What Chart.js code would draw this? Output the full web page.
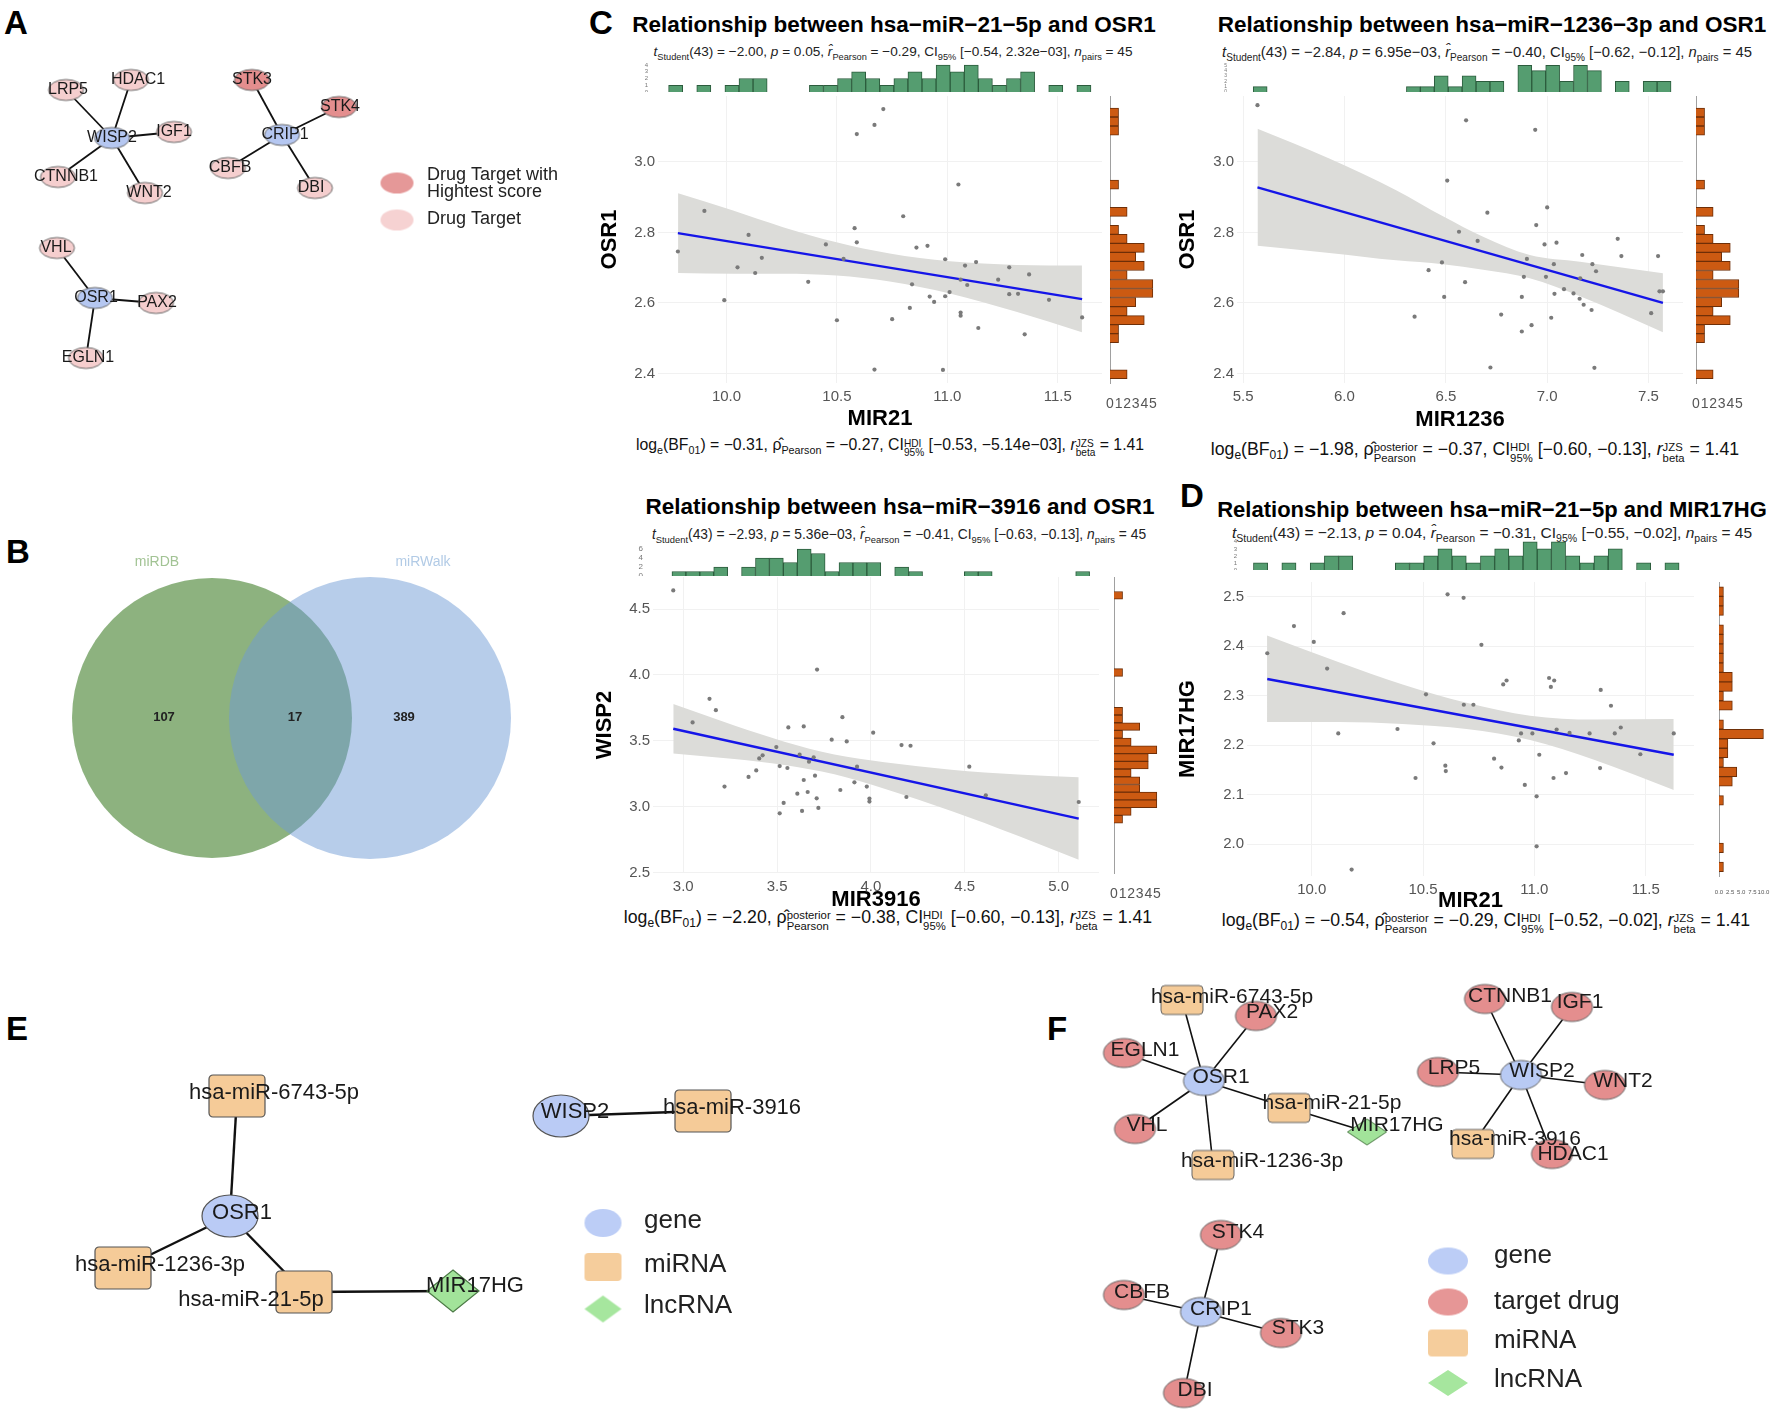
<!DOCTYPE html>
<html lang="en">
<head>
<meta charset="UTF-8">
<title>miRNA / gene / drug-target panels</title>
<script src="https://cdn.jsdelivr.net/npm/chart.js"></script>
<style>
  body { margin: 0; background: #fff; }
  #page { position: relative; width: 1772px; height: 1410px; overflow: hidden; background: #fff;
          font-family: "Liberation Sans", Arial, sans-serif; color: #000; }
  #page canvas { position: absolute; }
  .letter { position: absolute; font-weight: bold; font-size: 33px; line-height: 1; }
  .txt { position: absolute; white-space: nowrap; transform: translate(-50%, -50%); line-height: 1; }
  .ttl { font-weight: bold; font-size: 22.5px; }
  .sub { font-size: 15px; color: #222; }
  .cap { font-size: 17.7px; color: #111; }
  .txt sub { font-size: 68%; line-height: 0; }
  .ss { display: inline-flex; flex-direction: column; font-size: 64%; line-height: 0.95; vertical-align: 0.34em; }
</style>
</head>
<body>
<div id="page">
  <div class="letter" style="left:4px;top:6px">A</div>
  <div class="letter" style="left:6px;top:535px">B</div>
  <div class="letter" style="left:589px;top:6px">C</div>
  <div class="letter" style="left:1180px;top:479px">D</div>
  <div class="letter" style="left:6px;top:1012px">E</div>
  <div class="letter" style="left:1047px;top:1012px">F</div>

  <div class="txt ttl" style="left:894px;top:25px">Relationship between hsa−miR−21−5p and OSR1</div>
  <div class="txt ttl" style="left:1492px;top:25px">Relationship between hsa−miR−1236−3p and OSR1</div>
  <div class="txt ttl" style="left:900px;top:507px">Relationship between hsa−miR−3916 and OSR1</div>
  <div class="txt ttl" style="left:1492px;top:510px;font-size:22px">Relationship between hsa−miR−21−5p and MIR17HG</div>

  <div class="txt sub" id="sub1" style="left:893px;top:52px;font-size:13.6px"></div>
  <div class="txt sub" id="sub2" style="left:1487px;top:52px;font-size:14.8px"></div>
  <div class="txt sub" id="sub3" style="left:899px;top:535px;font-size:13.8px"></div>
  <div class="txt sub" id="sub4" style="left:1492px;top:533px;font-size:15.5px"></div>

  <div class="txt cap" id="cap1" style="left:890px;top:447px;font-size:15.8px"></div>
  <div class="txt cap" id="cap2" style="left:1475px;top:452px"></div>
  <div class="txt cap" id="cap3" style="left:888px;top:920px"></div>
  <div class="txt cap" id="cap4" style="left:1486px;top:923px"></div>
</div>

<script>
// ---------------- data ----------------

// C (top-left): hsa-miR-21-5p (MIR21) vs OSR1
const p1X = [9.78, 9.90, 9.99, 10.05, 10.10, 10.13, 10.16, 10.37, 10.45, 10.50, 10.53, 10.58, 10.59, 10.59, 10.67,
             10.71, 10.67, 10.75, 10.80, 10.83, 10.84, 10.86, 10.91, 10.92, 10.94, 10.98, 10.99, 10.99, 11.01, 11.05,
             11.06, 11.06, 11.06, 11.08, 11.09, 11.13, 11.14, 11.23, 11.28, 11.28, 11.32, 11.35, 11.37, 11.46, 11.61];
const p1Y = [2.746, 2.861, 2.608, 2.701, 2.793, 2.685, 2.728, 2.660, 2.766, 2.551, 2.725, 2.812, 2.772, 3.079, 3.105,
             3.150, 2.411, 2.554, 2.846, 2.586, 2.653, 2.757, 2.762, 2.618, 2.603, 2.410, 2.724, 2.619, 2.631, 2.936,
             2.666, 2.573, 2.564, 2.706, 2.651, 2.716, 2.529, 2.666, 2.625, 2.701, 2.626, 2.511, 2.681, 2.609, 2.559];
const p1FitX = [9.78, 11.61];
const p1FitY = [2.798, 2.611];
const p1BandX  = [9.781, 10.030, 10.256, 10.498, 10.739, 11.011, 11.312, 11.609];
const p1BandHi = [2.911, 2.862, 2.815, 2.772, 2.740, 2.718, 2.708, 2.706];
const p1BandLo = [2.685, 2.683, 2.683, 2.678, 2.661, 2.627, 2.575, 2.517];

// C (top-right): hsa-miR-1236-3p (MIR1236) vs OSR1
const p2X = [5.571, 6.600, 6.941, 6.507, 6.705, 7.000, 6.946, 6.565, 6.657, 6.987, 7.046, 7.348, 7.173, 7.366, 7.547,
             6.900, 6.481, 7.033, 7.223, 7.241, 6.415, 6.885, 6.994, 6.595, 7.163, 7.083, 7.130, 7.036, 7.554, 7.571,
             6.492, 6.875, 7.160, 7.180, 7.219, 6.346, 6.773, 7.020, 7.513, 6.923, 6.875, 6.720, 7.233];
const p2Y = [3.161, 3.118, 3.091, 2.947, 2.856, 2.871, 2.821, 2.802, 2.776, 2.766, 2.771, 2.782, 2.736, 2.733, 2.733,
             2.725, 2.715, 2.710, 2.710, 2.690, 2.693, 2.674, 2.674, 2.659, 2.670, 2.639, 2.627, 2.626, 2.633, 2.633,
             2.617, 2.617, 2.612, 2.595, 2.580, 2.561, 2.567, 2.558, 2.571, 2.537, 2.519, 2.417, 2.416];
const p2FitX = [5.571, 7.571];
const p2FitY = [2.928, 2.600];
const p2BandX  = [5.571, 5.925, 6.255, 6.486, 6.684, 6.914, 7.162, 7.571];
const p2BandHi = [3.094, 3.010, 2.920, 2.846, 2.788, 2.736, 2.717, 2.684];
const p2BandLo = [2.762, 2.742, 2.721, 2.710, 2.694, 2.670, 2.619, 2.517];

// C (bottom-left): hsa-miR-3916 (MIR3916) vs WISP2
const p3X = [2.947, 3.050, 3.140, 3.174, 3.220, 3.348, 3.389, 3.405, 3.423, 3.496, 3.514, 3.514, 3.535, 3.555, 3.560,
             3.608, 3.620, 3.633, 3.642, 3.642, 3.663, 3.670, 3.695, 3.702, 3.711, 3.713, 3.720, 3.791, 3.837, 3.848,
             3.871, 3.912, 3.926, 3.978, 3.992, 3.992, 4.012, 4.163, 4.189, 4.211, 4.524, 4.612, 5.107];
const p3Y = [4.641, 3.639, 3.818, 3.732, 3.152, 3.225, 3.275, 3.366, 3.389, 3.452, 3.308, 2.949, 3.028, 3.293, 3.601,
             3.098, 3.394, 2.967, 3.609, 3.202, 3.111, 3.341, 3.374, 3.235, 3.063, 4.040, 2.990, 3.508, 3.126, 3.679,
             3.495, 3.184, 3.303, 3.152, 3.061, 3.038, 3.561, 3.467, 3.073, 3.462, 3.303, 3.086, 3.035];
const p3FitX = [2.947, 5.107];
const p3FitY = [3.591, 2.909];
const p3BandX  = [2.947, 3.272, 3.539, 3.805, 4.072, 4.428, 4.783, 5.107];
const p3BandHi = [3.778, 3.615, 3.493, 3.396, 3.337, 3.280, 3.244, 3.222];
const p3BandLo = [3.404, 3.362, 3.316, 3.245, 3.135, 2.967, 2.779, 2.596];

// D: hsa-miR-21-5p (MIR21) vs MIR17HG
const p4X = [9.800, 9.920, 10.009, 10.069, 10.119, 10.143, 10.179, 10.385, 10.466, 10.513, 10.547, 10.600, 10.602, 10.610, 10.682,
             10.683, 10.726, 10.762, 10.819, 10.852, 10.860, 10.875, 10.930, 10.940, 10.957, 10.991, 11.010, 11.010, 11.022, 11.066,
             11.074, 11.089, 11.086, 11.100, 11.142, 11.158, 11.248, 11.295, 11.298, 11.344, 11.361, 11.388, 11.476, 11.626];
const p4Y = [2.386, 2.441, 2.409, 2.355, 2.224, 2.467, 1.949, 2.233, 2.134, 2.303, 2.204, 2.159, 2.148, 2.505, 2.498,
             2.282, 2.282, 2.403, 2.173, 2.155, 2.323, 2.331, 2.210, 2.224, 2.120, 2.224, 2.097, 1.996, 2.181, 2.336,
             2.318, 2.331, 2.134, 2.232, 2.144, 2.225, 2.224, 2.154, 2.312, 2.280, 2.224, 2.236, 2.182, 2.224];
const p4FitX = [9.80, 11.626];
const p4FitY = [2.334, 2.181];
const p4BandX  = [9.799, 10.122, 10.408, 10.695, 10.981, 11.268, 11.626];
const p4BandHi = [2.422, 2.368, 2.323, 2.286, 2.260, 2.252, 2.253];
const p4BandLo = [2.247, 2.247, 2.243, 2.233, 2.211, 2.171, 2.110];

// marginal histograms (30 bins each, counts from low to high value)
const mir21Counts   = [1,0,1,0,1,2,2,0,0,0,1,1,2,3,2,1,2,3,2,4,3,4,2,1,2,3,0,1,0,1];
const mir1236Counts = [1,0,0,0,0,0,0,0,0,0,0,1,1,3,1,3,2,2,0,5,4,5,2,5,4,0,2,0,2,2];
const mir3916Counts = [1,1,1,2,0,2,4,4,3,6,5,1,3,3,3,0,2,1,0,0,0,1,1,0,0,0,0,0,0,1];
const osr1Counts    = [2,0,0,0,1,1,4,2,3,5,5,2,4,3,4,2,1,0,2,0,0,1,0,0,0,0,0,1,1,1];
const wisp2Counts   = [1,2,5,5,3,3,2,4,4,5,2,1,3,1,1,0,0,0,0,1,0,0,0,0,0,0,0,0,0,1];
const mir17hgCounts = [1,0,1,0,0,0,0,1,0,3,4,1,2,2,10,1,0,3,1,3,3,1,1,1,1,1,0,1,1,1];
const mir21Range   = [9.738, 11.65];
const mir1236Range = [5.550, 7.611];
const mir3916Range = [2.940, 5.165];
const osr1Range    = [2.385, 3.153];
const wisp2Range   = [2.875, 4.633];
const mir17hgRange = [1.945, 2.520];

// axis ranges and ticks
const p1XRange = [9.69, 11.70],  p1YRange = [2.373, 3.187];
const p2XRange = [5.47, 7.67],   p2YRange = [2.373, 3.187];
const p3XRange = [2.839, 5.215], p3YRange = [2.496, 4.743];
const p4XRange = [9.709, 11.717], p4YRange = [1.936, 2.53];
const mir21Ticks = [10.0, 10.5, 11.0, 11.5];
const mir1236Ticks = [5.5, 6.0, 6.5, 7.0, 7.5];
const mir3916Ticks = [3.0, 3.5, 4.0, 4.5, 5.0];
const osr1Ticks = [2.4, 2.6, 2.8, 3.0];
const wisp2Ticks = [2.5, 3.0, 3.5, 4.0, 4.5];
const mir17hgTicks = [2.0, 2.1, 2.2, 2.3, 2.4, 2.5];

// stats text
const subStats = [
  ['−2.00', '0.05', '−0.29', '−0.54', '2.32e−03'],
  ['−2.84', '6.95e−03', '−0.40', '−0.62', '−0.12'],
  ['−2.93', '5.36e−03', '−0.41', '−0.63', '−0.13'],
  ['−2.13', '0.04', '−0.31', '−0.55', '−0.02']
];
const capStats = [
  ['−0.31', '−0.27', '−0.53', '−5.14e−03'],
  ['−1.98', '−0.37', '−0.60', '−0.13'],
  ['−2.20', '−0.38', '−0.60', '−0.13'],
  ['−0.54', '−0.29', '−0.52', '−0.02']
];

// A: drug-target network
const aNames  = ['WISP2','LRP5','HDAC1','IGF1','CTNNB1','WNT2','CRIP1','STK3','STK4','CBFB','DBI','OSR1','VHL','PAX2','EGLN1'];
const aKinds  = ['gene','target','target','target','target','target','gene','top','top','target','target','gene','target','target','target'];
const aX      = [112, 66, 131, 174, 58, 145, 282, 252, 339, 228, 315, 95, 57, 156, 86];
const aY      = [138, 90, 80, 132, 177, 193, 135, 80, 107, 168, 188, 298, 248, 303, 358];
const aLabelX = [112, 68, 138, 174, 66, 149, 285, 252, 340, 230, 311, 96, 56, 157, 88];
const aEdges  = [['WISP2','LRP5'],['WISP2','HDAC1'],['WISP2','IGF1'],['WISP2','CTNNB1'],['WISP2','WNT2'],
                 ['CRIP1','STK3'],['CRIP1','STK4'],['CRIP1','CBFB'],['CRIP1','DBI'],
                 ['OSR1','VHL'],['OSR1','PAX2'],['OSR1','EGLN1']];

// B: Venn
const vennSets = ['miRDB', 'miRWalk'];
const vennCounts = [107, 17, 389];

// E: ceRNA network
const eNames  = ['hsa-miR-6743-5p','OSR1','hsa-miR-1236-3p','hsa-miR-21-5p','MIR17HG','WISP2','hsa-miR-3916'];
const eKinds  = ['mirna','gene','mirna','mirna','lnc','gene','mirna'];
const eX      = [237, 230, 123, 304, 453, 561, 703];
const eY      = [1096, 1216, 1268, 1292, 1291, 1116, 1111];
const eLabelX = [274, 242, 160, 251, 475, 575, 732];
const eLabelY = [1093, 1213, 1265, 1300, 1286, 1112, 1108];
const eEdges  = [['OSR1','hsa-miR-6743-5p'],['OSR1','hsa-miR-1236-3p'],['OSR1','hsa-miR-21-5p'],
                 ['hsa-miR-21-5p','MIR17HG'],['WISP2','hsa-miR-3916']];
const eLegend = ['gene', 'miRNA', 'lncRNA'];

// F: combined network
const fNames  = ['OSR1','hsa-miR-6743-5p','PAX2','EGLN1','VHL','hsa-miR-1236-3p','hsa-miR-21-5p','MIR17HG',
                 'WISP2','CTNNB1','IGF1','LRP5','WNT2','hsa-miR-3916','HDAC1',
                 'CRIP1','STK4','CBFB','STK3','DBI'];
const fKinds  = ['gene','mirna','target','target','target','mirna','mirna','lnc',
                 'gene','target','target','target','target','mirna','target',
                 'gene','target','target','target','target'];
const fX      = [1204, 1182, 1256, 1124, 1135, 1213, 1289, 1367, 1521, 1485, 1572, 1438, 1605, 1473, 1552, 1201, 1221, 1124, 1281, 1184];
const fY      = [1081, 1000, 1016, 1053, 1129, 1165, 1108, 1132, 1075, 999, 1007, 1072, 1085, 1144, 1154, 1312, 1235, 1295, 1333, 1393];
const fLabelX = [1221, 1232, 1272, 1145, 1147, 1262, 1332, 1397, 1542, 1510, 1580, 1454, 1623, 1515, 1573, 1221, 1238, 1142, 1298, 1195];
const fLabelY = [1077, 997, 1012, 1050, 1125, 1161, 1103, 1125, 1071, 996, 1002, 1068, 1081, 1139, 1154, 1309, 1232, 1292, 1328, 1390];
const fEdges  = [['OSR1','hsa-miR-6743-5p'],['OSR1','PAX2'],['OSR1','EGLN1'],['OSR1','VHL'],['OSR1','hsa-miR-1236-3p'],
                 ['OSR1','hsa-miR-21-5p'],['hsa-miR-21-5p','MIR17HG'],
                 ['WISP2','CTNNB1'],['WISP2','IGF1'],['WISP2','LRP5'],['WISP2','WNT2'],['WISP2','hsa-miR-3916'],['WISP2','HDAC1'],
                 ['CRIP1','STK4'],['CRIP1','CBFB'],['CRIP1','STK3'],['CRIP1','DBI']];
const fLegend = ['gene', 'target drug', 'miRNA', 'lncRNA'];

// ---------------- helpers ----------------
const FONT = '"Liberation Sans", Arial, sans-serif';
Chart.defaults.font.family = FONT;
Chart.defaults.animation = false;
Chart.defaults.events = [];
Chart.defaults.layout.autoPadding = false;
Chart.defaults.plugins.legend.display = false;
Chart.defaults.plugins.tooltip.enabled = false;

const GREEN = '#559d70', GREEN_EDGE = '#2c5c3d';
const ORANGE = '#cc5a12', ORANGE_EDGE = '#6e2f08';

function addCanvas(l, t, w, h) {
  const c = document.createElement('canvas');
  l = Math.round(l); t = Math.round(t); w = Math.round(w); h = Math.round(h);
  c.width = w; c.height = h;
  c.style.left = l + 'px'; c.style.top = t + 'px';
  c.style.width = w + 'px'; c.style.height = h + 'px';
  document.getElementById('page').appendChild(c);
  return c;
}

function pairs(xs, ys) { return xs.map((v, i) => ({ x: v, y: ys[i] })); }

// fixes an axis box size and drops the label overflow padding so chart areas line up
function fitTo(size, isX) {
  return s => {
    if (isX) s.height = size; else s.width = size;
    s.paddingTop = 0; s.paddingBottom = 0; s.paddingLeft = 0; s.paddingRight = 0;
  };
}

// draws text items positioned in data coordinates
const textPlugin = {
  id: 'texts',
  afterDatasetsDraw(chart, args, opts) {
    const { ctx, scales: { x, y } } = chart;
    (opts.items || []).forEach(t => {
      ctx.save();
      ctx.font = t.font;
      ctx.fillStyle = t.color || '#1a1a1a';
      ctx.textAlign = t.align || 'center';
      ctx.textBaseline = 'middle';
      ctx.fillText(t.text, x.getPixelForValue(t.x), y.getPixelForValue(t.y));
      ctx.restore();
    });
  }
};

function mainAxis(range, ticks, title, size, isX) {
  return {
    type: 'linear', min: range[0], max: range[1],
    afterBuildTicks: s => { s.ticks = ticks.map(v => ({ value: v })); },
    afterFit: fitTo(size, isX),
    ticks: { callback: v => Number(v).toFixed(1), color: '#555', font: { size: 15 },
             padding: isX ? 5 : 3, maxRotation: 0, minRotation: 0, autoSkip: false },
    grid: { color: '#f1f1f1', drawTicks: false },
    border: { display: false },
    title: { display: true, text: title, color: '#000', font: { size: 22, weight: 'bold' }, padding: { top: 4, bottom: 4 } }
  };
}

function scatterPanel(g, d) {
  const W = g.r - g.l, H = g.b - g.t;
  const c = addCanvas(g.l - g.yw, g.t, W + g.yw, H + g.xh);
  new Chart(c, {
    type: 'scatter',
    data: { datasets: [
      { data: pairs(d.bandX, d.bandLo), showLine: true, pointRadius: 0, borderWidth: 0, borderColor: 'rgba(0,0,0,0)',
        fill: false, cubicInterpolationMode: 'monotone', order: 3 },
      { data: pairs(d.bandX, d.bandHi), showLine: true, pointRadius: 0, borderWidth: 0, borderColor: 'rgba(0,0,0,0)',
        fill: '-1', backgroundColor: '#dcdcd9', cubicInterpolationMode: 'monotone', order: 2 },
      { data: pairs(d.fitX, d.fitY), showLine: true, pointRadius: 0, borderColor: '#1515e8', borderWidth: 2.4, order: 1 },
      { data: pairs(d.x, d.y), pointRadius: 2.1, backgroundColor: '#7a7a7a', borderWidth: 0, order: 0 }
    ] },
    options: {
      responsive: false,
      layout: { padding: 0 },
      scales: {
        x: mainAxis(d.xRange, d.xTicks, d.xTitle, g.xh, true),
        y: mainAxis(d.yRange, d.yTicks, d.yTitle, g.yw, false)
      }
    }
  });

  // top marginal histogram
  const h = g.hist;
  const ct = addCanvas(g.l - g.yw, h.top - 4, W + g.yw, h.bottom - h.top + 4);
  const bw = (d.xHistRange[1] - d.xHistRange[0]) / d.xCounts.length;
  new Chart(ct, {
    type: 'bar',
    data: { datasets: [{ data: d.xCounts.map((n, i) => ({ x: d.xHistRange[0] + (i + 0.5) * bw, y: n })),
      backgroundColor: GREEN, borderColor: GREEN_EDGE, borderWidth: 1, barPercentage: 1, categoryPercentage: 1 }] },
    options: {
      responsive: false,
      layout: { padding: { top: 4 } },
      scales: {
        x: { type: 'linear', offset: false, min: d.xRange[0], max: d.xRange[1], afterFit: fitTo(0, true),
             ticks: { display: false }, grid: { display: false }, border: { display: true, color: '#a0a0a0' } },
        y: { type: 'linear', min: 0, max: h.ymax,
             afterBuildTicks: s => { s.ticks = h.ticks.map(v => ({ value: v })); },
             afterFit: fitTo(g.yw, false),
             ticks: { font: { size: h.font }, color: '#777', padding: 2, autoSkip: false },
             grid: { display: false }, border: { display: false } }
      }
    }
  });

  // right marginal histogram
  const sd = g.side;
  const cs = addCanvas(sd.base - 8, g.t, sd.xmax * sd.unit + 8 + 6, H + g.xh);
  const bh = (d.yHistRange[1] - d.yHistRange[0]) / d.yCounts.length;
  new Chart(cs, {
    type: 'bar',
    data: { datasets: [{ data: d.yCounts.map((n, i) => ({ y: d.yHistRange[0] + (i + 0.5) * bh, x: n })),
      backgroundColor: ORANGE, borderColor: ORANGE_EDGE, borderWidth: 1, barPercentage: 1, categoryPercentage: 1 }] },
    options: {
      indexAxis: 'y',
      responsive: false,
      layout: { padding: { right: 6 } },
      scales: {
        y: { type: 'linear', offset: false, min: d.yRange[0], max: d.yRange[1], afterFit: fitTo(8, false),
             ticks: { display: false }, grid: { display: false }, border: { display: true, color: '#a0a0a0' } },
        x: { type: 'linear', min: 0, max: sd.xmax,
             afterBuildTicks: s => { s.ticks = sd.ticks.map(v => ({ value: v })); },
             afterFit: fitTo(g.xh, true),
             ticks: { callback: sd.fmt, font: { size: sd.font }, color: '#555', padding: 5,
                      maxRotation: 0, minRotation: 0, autoSkip: false },
             grid: { display: false }, border: { display: false } }
      }
    }
  });
}

function shapeImg(kind, w, h, fill, stroke, lw) {
  const pad = 2;
  const c = document.createElement('canvas');
  c.width = Math.ceil(w + pad * 2); c.height = Math.ceil(h + pad * 2);
  const g = c.getContext('2d');
  const cx = c.width / 2, cy = c.height / 2;
  g.beginPath();
  if (kind === 'ellipse') {
    g.ellipse(cx, cy, w / 2, h / 2, 0, 0, Math.PI * 2);
  } else if (kind === 'box') {
    const r = 4, x0 = cx - w / 2, y0 = cy - h / 2;
    g.moveTo(x0 + r, y0);
    g.arcTo(x0 + w, y0, x0 + w, y0 + h, r);
    g.arcTo(x0 + w, y0 + h, x0, y0 + h, r);
    g.arcTo(x0, y0 + h, x0, y0, r);
    g.arcTo(x0, y0, x0 + w, y0, r);
    g.closePath();
  } else {
    g.moveTo(cx, cy - h / 2); g.lineTo(cx + w / 2, cy); g.lineTo(cx, cy + h / 2); g.lineTo(cx - w / 2, cy);
    g.closePath();
  }
  g.fillStyle = fill; g.fill();
  if (lw) { g.lineWidth = lw; g.strokeStyle = stroke; g.stroke(); }
  return c;
}

function networkChart(box, net) {
  const c = addCanvas(box.l, box.t, box.r - box.l, box.b - box.t);
  const pos = {};
  net.names.forEach((n, i) => { pos[n] = { x: net.x[i], y: net.y[i] }; });
  const datasets = net.edges.map(e => ({
    data: [pos[e[0]], pos[e[1]]], showLine: true, pointRadius: 0,
    borderColor: '#111', borderWidth: net.edgeWidth, order: 2
  }));
  datasets.push({ data: net.names.map(n => pos[n]), pointStyle: net.kinds.map(k => net.styles[k]),
                  pointRadius: 10, clip: false, order: 0 });
  if (net.legend) {
    datasets.push({ data: net.legend.pts, pointStyle: net.legend.styles, pointRadius: 10, clip: false, order: 0 });
  }
  const texts = net.names.map((n, i) => ({ x: net.lx[i], y: net.ly ? net.ly[i] : net.y[i], text: n, font: net.labelFont }));
  new Chart(c, {
    type: 'scatter',
    data: { datasets },
    options: {
      responsive: false,
      layout: { padding: 0 },
      scales: {
        x: { type: 'linear', display: false, min: box.l, max: box.r },
        y: { type: 'linear', display: false, min: box.t, max: box.b, reverse: true }
      },
      plugins: { texts: { items: texts.concat(net.extraTexts || []) } }
    },
    plugins: [textPlugin]
  });
}

// ---------------- stats text ----------------
function ss(top, bottom) { return `<span class="ss"><span>${top}</span><span>${bottom}</span></span>`; }
subStats.forEach((s, i) => {
  document.getElementById('sub' + (i + 1)).innerHTML =
    `<i>t</i><sub>Student</sub>(43) = ${s[0]}, <i>p</i> = ${s[1]}, <i>r̂</i><sub>Pearson</sub> = ${s[2]}, ` +
    `CI<sub>95%</sub> [${s[3]}, ${s[4]}], <i>n</i><sub>pairs</sub> = 45`;
});
capStats.forEach((s, i) => {
  const rho = i === 0 ? 'ρ̂<sub>Pearson</sub>' : 'ρ̂' + ss('posterior', 'Pearson');
  document.getElementById('cap' + (i + 1)).innerHTML =
    `log<sub>e</sub>(BF<sub>01</sub>) = ${s[0]}, ${rho} = ${s[1]}, CI${ss('HDI', '95%')} [${s[2]}, ${s[3]}], ` +
    `<i>r</i>${ss('JZS', 'beta')} = 1.41`;
});

// ---------------- scatter panels ----------------
const intTicks = [0, 1, 2, 3, 4, 5];
const intFmt = v => String(v);

scatterPanel(
  { l: 657.6, r: 1101.4, t: 96.3, b: 383.5, yw: 65, xh: 53,
    hist: { top: 61, bottom: 92, ymax: 4.6, ticks: [0, 1, 2, 3, 4], font: 6 },
    side: { base: 1110, unit: 8.5, xmax: 5.6, ticks: intTicks, fmt: intFmt, font: 14 } },
  { x: p1X, y: p1Y, fitX: p1FitX, fitY: p1FitY, bandX: p1BandX, bandHi: p1BandHi, bandLo: p1BandLo,
    xRange: p1XRange, yRange: p1YRange, xTicks: mir21Ticks, yTicks: osr1Ticks, xTitle: 'MIR21', yTitle: 'OSR1',
    xCounts: mir21Counts, xHistRange: mir21Range, yCounts: osr1Counts, yHistRange: osr1Range });

scatterPanel(
  { l: 1237.3, r: 1683.5, t: 96.3, b: 383.5, yw: 66, xh: 54,
    hist: { top: 62, bottom: 92, ymax: 5.6, ticks: [0, 1, 2, 3, 4, 5], font: 5 },
    side: { base: 1695.7, unit: 8.5, xmax: 5.6, ticks: intTicks, fmt: intFmt, font: 14 } },
  { x: p2X, y: p2Y, fitX: p2FitX, fitY: p2FitY, bandX: p2BandX, bandHi: p2BandHi, bandLo: p2BandLo,
    xRange: p2XRange, yRange: p2YRange, xTicks: mir1236Ticks, yTicks: osr1Ticks, xTitle: 'MIR1236', yTitle: 'OSR1',
    xCounts: mir1236Counts, xHistRange: mir1236Range, yCounts: osr1Counts, yHistRange: osr1Range });

scatterPanel(
  { l: 652.6, r: 1098.3, t: 577.3, b: 872.8, yw: 65, xh: 44,
    hist: { top: 545, bottom: 576, ymax: 6.9, ticks: [0, 2, 4, 6], font: 8 },
    side: { base: 1113.5, unit: 8.5, xmax: 5.6, ticks: intTicks, fmt: intFmt, font: 14 } },
  { x: p3X, y: p3Y, fitX: p3FitX, fitY: p3FitY, bandX: p3BandX, bandHi: p3BandHi, bandLo: p3BandLo,
    xRange: p3XRange, yRange: p3YRange, xTicks: mir3916Ticks, yTicks: wisp2Ticks, xTitle: 'MIR3916', yTitle: 'WISP2',
    xCounts: mir3916Counts, xHistRange: mir3916Range, yCounts: wisp2Counts, yHistRange: wisp2Range });

scatterPanel(
  { l: 1246.8, r: 1693.5, t: 581.6, b: 876, yw: 76, xh: 42,
    hist: { top: 539, bottom: 570, ymax: 4.4, ticks: [0, 1, 2, 3, 4], font: 6 },
    side: { base: 1719, unit: 4.4, xmax: 10.8, ticks: [0, 2.5, 5, 7.5, 10], fmt: v => Number(v).toFixed(1), font: 6 } },
  { x: p4X, y: p4Y, fitX: p4FitX, fitY: p4FitY, bandX: p4BandX, bandHi: p4BandHi, bandLo: p4BandLo,
    xRange: p4XRange, yRange: p4YRange, xTicks: mir21Ticks, yTicks: mir17hgTicks, xTitle: 'MIR21', yTitle: 'MIR17HG',
    xCounts: mir21Counts, xHistRange: mir21Range, yCounts: mir17hgCounts, yHistRange: mir17hgRange });

// ---------------- A ----------------
networkChart({ l: 0, t: 40, r: 590, b: 400 }, {
  names: aNames, kinds: aKinds, x: aX, y: aY, lx: aLabelX, edges: aEdges, edgeWidth: 1.8,
  labelFont: '16px ' + FONT,
  styles: {
    gene: shapeImg('ellipse', 35, 21, '#b5c7f1', '#6a6a6a', 1),
    target: shapeImg('ellipse', 35, 21, '#f5cece', '#6a6a6a', 1),
    top: shapeImg('ellipse', 35, 21, '#e48e8e', '#6a6a6a', 1)
  },
  legend: {
    pts: [{ x: 397, y: 183 }, { x: 397, y: 220 }],
    styles: [shapeImg('ellipse', 33, 21, '#e59898', '', 0), shapeImg('ellipse', 33, 21, '#f6d2d2', '', 0)]
  },
  extraTexts: [
    { x: 427, y: 175, text: 'Drug Target with', font: '18px ' + FONT, align: 'left', color: '#222' },
    { x: 427, y: 192, text: 'Hightest score', font: '18px ' + FONT, align: 'left', color: '#222' },
    { x: 427, y: 219, text: 'Drug Target', font: '18px ' + FONT, align: 'left', color: '#222' }
  ]
});

// ---------------- B (Venn) ----------------
(function () {
  const box = { l: 0, t: 540, r: 590, b: 880 };
  const c = addCanvas(box.l, box.t, box.r - box.l, box.b - box.t);
  new Chart(c, {
    type: 'scatter',
    data: { datasets: [
      { data: [{ x: 370, y: 718 }], pointRadius: 141, backgroundColor: 'rgba(111,155,213,0.5)', borderWidth: 0, clip: false, order: 0 },
      { data: [{ x: 212, y: 718 }], pointRadius: 140, backgroundColor: 'rgba(27,101,0,0.5)', borderWidth: 0, clip: false, order: 1 }
    ] },
    options: {
      responsive: false,
      layout: { padding: 0 },
      scales: {
        x: { type: 'linear', display: false, min: box.l, max: box.r },
        y: { type: 'linear', display: false, min: box.t, max: box.b, reverse: true }
      },
      plugins: { texts: { items: [
        { x: 157, y: 562, text: vennSets[0], font: '14px ' + FONT, color: '#a2c394' },
        { x: 423, y: 562, text: vennSets[1], font: '14px ' + FONT, color: '#b2cbe6' },
        { x: 164, y: 717, text: String(vennCounts[0]), font: 'bold 13px ' + FONT, color: '#222' },
        { x: 295, y: 717, text: String(vennCounts[1]), font: 'bold 13px ' + FONT, color: '#222' },
        { x: 404, y: 717, text: String(vennCounts[2]), font: 'bold 13px ' + FONT, color: '#222' }
      ] } }
    },
    plugins: [textPlugin]
  });
})();

// ---------------- E ----------------
networkChart({ l: 0, t: 1060, r: 900, b: 1410 }, {
  names: eNames, kinds: eKinds, x: eX, y: eY, lx: eLabelX, ly: eLabelY, edges: eEdges, edgeWidth: 2.4,
  labelFont: '22px ' + FONT,
  styles: {
    gene: shapeImg('ellipse', 56, 42, '#bacbf5', '#555', 1.2),
    mirna: shapeImg('box', 56, 42, '#f5cb98', '#555', 1.2),
    lnc: shapeImg('diamond', 52, 42, '#a2e39a', '#4c7a46', 1.2)
  },
  legend: {
    pts: [{ x: 603, y: 1223 }, { x: 603, y: 1267 }, { x: 603, y: 1309 }],
    styles: [shapeImg('ellipse', 37, 28, '#bccdf6', '', 0), shapeImg('box', 37, 28, '#f5cd9c', '', 0),
             shapeImg('diamond', 37, 27, '#a6e69e', '', 0)]
  },
  extraTexts: eLegend.map((t, i) => ({ x: 644, y: [1221, 1265, 1306][i], text: t, font: '26px ' + FONT, align: 'left', color: '#222' }))
});

// ---------------- F ----------------
networkChart({ l: 1090, t: 970, r: 1772, b: 1410 }, {
  names: fNames, kinds: fKinds, x: fX, y: fY, lx: fLabelX, ly: fLabelY, edges: fEdges, edgeWidth: 1.6,
  labelFont: '21px ' + FONT,
  styles: {
    gene: shapeImg('ellipse', 41, 29, '#b8caf4', '#666', 1),
    target: shapeImg('ellipse', 41, 29, '#e48e8e', '#666', 1),
    mirna: shapeImg('box', 42, 29, '#f5cb98', '#666', 1),
    lnc: shapeImg('diamond', 39, 26, '#a2e39a', '#4c7a46', 1)
  },
  legend: {
    pts: [{ x: 1448, y: 1261 }, { x: 1448, y: 1302 }, { x: 1448, y: 1343 }, { x: 1448, y: 1383 }],
    styles: [shapeImg('ellipse', 40, 27, '#bccdf6', '', 0), shapeImg('ellipse', 40, 27, '#e69696', '', 0),
             shapeImg('box', 40, 27, '#f5cd9c', '', 0), shapeImg('diamond', 40, 26, '#a6e69e', '', 0)]
  },
  extraTexts: fLegend.map((t, i) => ({ x: 1494, y: [1256, 1302, 1341, 1380][i], text: t, font: '26px ' + FONT, align: 'left', color: '#222' }))
});
</script>
</body>
</html>
